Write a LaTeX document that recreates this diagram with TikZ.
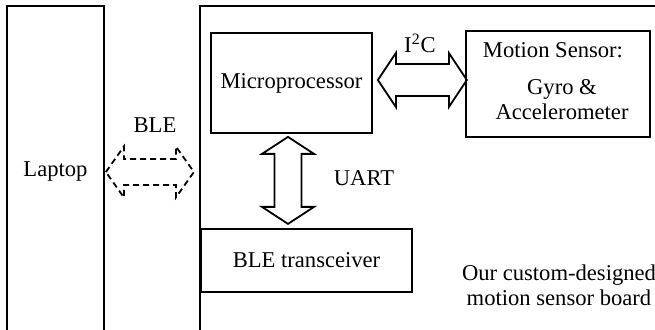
\documentclass[tikz,border=0pt]{standalone}
\usepackage{fontspec}
\setmainfont{Liberation Serif}
\usetikzlibrary{calc}

\tikzset{
    block/.style={draw, line width=0.9pt, inner sep=0pt, align=center},
    fatarrow/.style={draw, line width=0.9pt, line join=miter},
    radioarrow/.style={draw, line width=0.9pt, dash pattern=on 3pt off 2pt},
}

\begin{document}
\begin{tikzpicture}[x=0.5pt, y=-0.5pt, font=\fontsize{11.3}{12.4}\selectfont]

    % Fix the frame of the picture (the outer boxes run off the edges)
    \useasboundingbox (0,0) rectangle (655,330);
    \clip (0,0) rectangle (655,330);

    % Outer boxes: the laptop and the board
    \node[block, minimum width=48.5pt, minimum height=166pt] (laptop) at (55.5,172) {Laptop};
    \node[block, line width=1.2pt, minimum width=235pt, minimum height=170pt] (board) at (435,176) {};

    % Blocks on the board
    \node[block, minimum width=80.5pt, minimum height=50pt] (micro) at (291.5,83) {Microprocessor};
    \node[block, minimum width=92pt, minimum height=53pt] (sensor) at (558,84) {};
    \node (sensorhd) at (553,50) {Motion Sensor:};
    \node[align=center] (sensortxt) at (562,100) {Gyro \&\\Accelerometer};
    \node[block, minimum width=105.5pt, minimum height=31.5pt] (bletx) at (306.5,260.5) {BLE transceiver};

    % Link labels
    \node (i2c) at (420,43) {I\textsuperscript{2}C};
    \node (uart) at (364,178) {UART};
    \node (ble) at (155,125) {BLE};
    \node[align=center] (boardlbl) at (559,285) {Our custom-designed\\motion sensor board};

    % Tips of the three double arrows
    \coordinate (i2cA) at ($(micro.east)+(5,-3)$);
    \coordinate (uartA) at ($(micro.south)+(-3.5,3)$);
    \coordinate (bleA) at ($(laptop.east)+(1,0)$);

    % I2C: microprocessor <-> motion sensor
    \draw[fatarrow] (i2cA) -- ++(18,-27) -- ++(0,11) -- ++(53,0) -- ++(0,-11)
        -- ++(18,27) -- ++(-18,27) -- ++(0,-11) -- ++(-53,0) -- ++(0,11) -- cycle;

    % UART: microprocessor <-> BLE transceiver
    \draw[fatarrow] (uartA) -- ++(26,17) -- ++(-12.5,0) -- ++(0,53) -- ++(12.5,0)
        -- ++(-26,17) -- ++(-26,-17) -- ++(12.5,0) -- ++(0,-53) -- ++(-12.5,0) -- cycle;

    % BLE radio link: laptop <-> board (dashed)
    \draw[radioarrow] (bleA) -- ++(18,-25.5) -- ++(0,12.5) -- ++(52,0) -- ++(0,-12.5)
        -- ++(18,25.5) -- ++(-18,25.5) -- ++(0,-12.5) -- ++(-52,0) -- ++(0,12.5) -- cycle;

\end{tikzpicture}
\end{document}
